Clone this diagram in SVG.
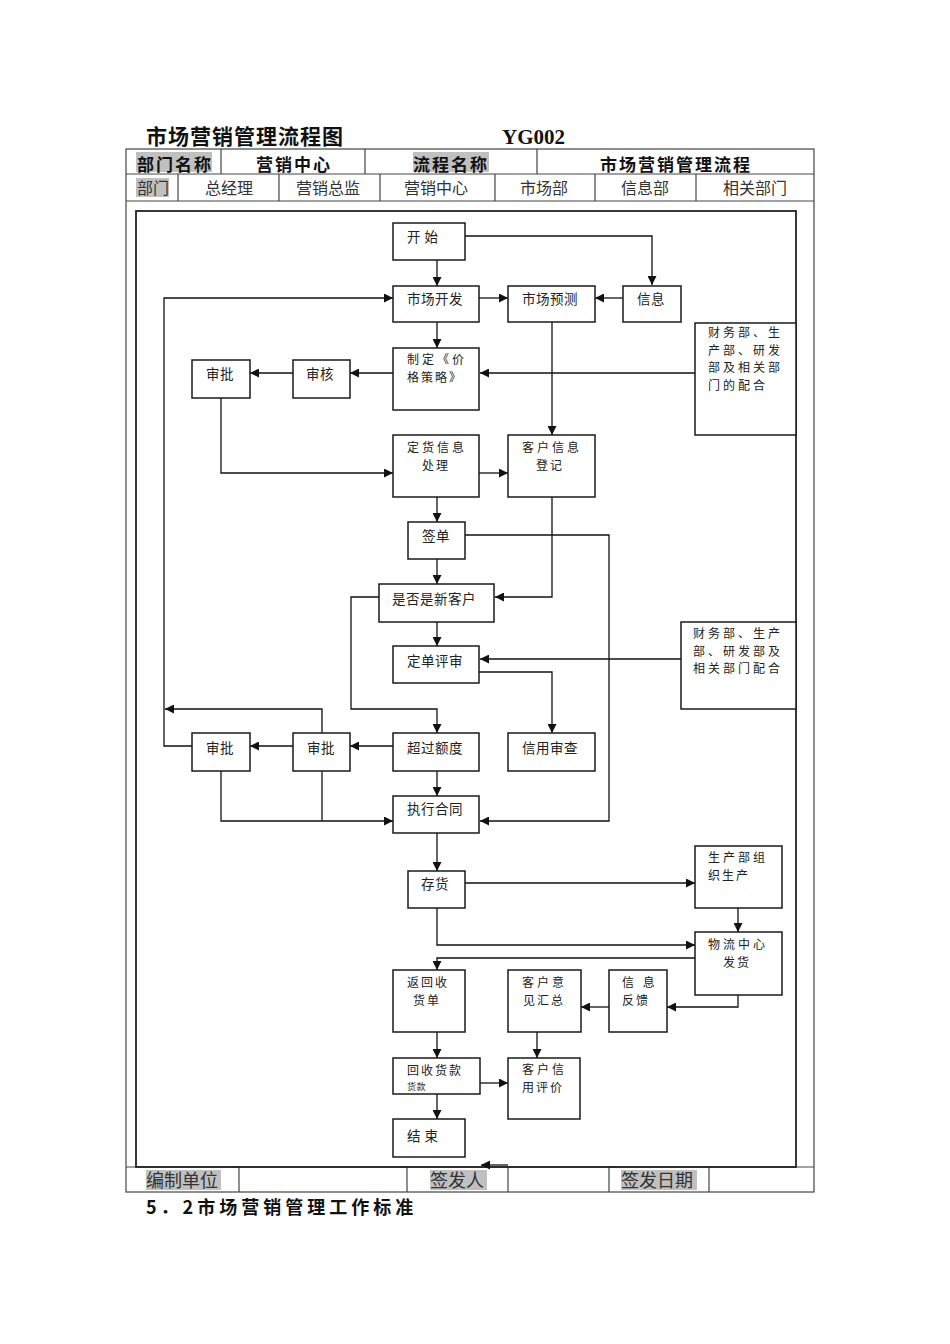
<svg xmlns="http://www.w3.org/2000/svg" width="950" height="1344" viewBox="0 0 950 1344">
<style>
.frame{fill:none;stroke:#444;stroke-width:1.2}
.box{fill:#fff;stroke:#1a1a1a;stroke-width:1.5}
.t{font-family:"Noto Sans CJK SC","Noto Sans",sans-serif;font-size:13.5px;fill:#222;letter-spacing:0.5px}
.m{font-family:"Noto Sans CJK SC","Noto Sans",sans-serif;font-size:12px;fill:#222;letter-spacing:2px}
.w{letter-spacing:3px}
.c{fill:none;stroke:#111;stroke-width:1.3}
.hl{fill:#c0c0c0}
.h1{font-family:"Noto Sans CJK SC",sans-serif;font-size:17px;font-weight:bold;fill:#111;letter-spacing:2px}
.h2{font-family:"Noto Sans CJK SC",sans-serif;font-size:16px;fill:#333}
.ft{font-family:"Noto Sans CJK SC",sans-serif;font-size:18px;fill:#333}
</style>
<defs>
<marker id="ah" viewBox="0 0 10 10" refX="10" refY="5" markerWidth="9" markerHeight="9" markerUnits="userSpaceOnUse" orient="auto"><path d="M0,0 L10,5 L0,10 z" fill="#111"/></marker>
</defs>
<rect width="950" height="1344" fill="#fff"/>

<g id="header">
<text x="146" y="144" font-family="Noto Sans CJK SC, sans-serif" font-size="21" font-weight="bold" fill="#111" letter-spacing="1">市场营销管理流程图</text>
<text x="502" y="144" font-family="Liberation Serif, serif" font-size="21" font-weight="bold" fill="#111">YG002</text>
<rect class="frame" x="126" y="149" width="688" height="1043"/>
<line class="frame" x1="126" y1="174" x2="814" y2="174"/>
<line class="frame" x1="126" y1="201" x2="814" y2="201"/>
<line class="frame" x1="221" y1="149" x2="221" y2="174"/>
<line class="frame" x1="365" y1="149" x2="365" y2="174"/>
<line class="frame" x1="537" y1="149" x2="537" y2="174"/>
<line class="frame" x1="178" y1="174" x2="178" y2="201"/>
<line class="frame" x1="279" y1="174" x2="279" y2="201"/>
<line class="frame" x1="380" y1="174" x2="380" y2="201"/>
<line class="frame" x1="495" y1="174" x2="495" y2="201"/>
<line class="frame" x1="595" y1="174" x2="595" y2="201"/>
<line class="frame" x1="696" y1="174" x2="696" y2="201"/>
<rect class="hl" x="136" y="152" width="76" height="20"/>
<rect class="hl" x="413" y="152" width="76" height="20"/>
<text class="h1" x="137" y="170.5">部门名称</text>
<text class="h1" x="256" y="170.5">营销中心</text>
<text class="h1" x="413" y="170.5">流程名称</text>
<text class="h1" x="600" y="170.5">市场营销管理流程</text>
<rect class="hl" x="136" y="178" width="33" height="19"/>
<text class="h2" x="137" y="194">部门</text>
<text class="h2" x="205" y="194">总经理</text>
<text class="h2" x="296" y="194">营销总监</text>
<text class="h2" x="404" y="194">营销中心</text>
<text class="h2" x="520" y="194">市场部</text>
<text class="h2" x="621" y="194">信息部</text>
<text class="h2" x="723" y="194">相关部门</text>
</g>

<g id="footer">
<line class="frame" x1="126" y1="1167" x2="814" y2="1167"/>
<line class="frame" x1="239" y1="1167" x2="239" y2="1192"/>
<line class="frame" x1="407" y1="1167" x2="407" y2="1192"/>
<line class="frame" x1="508" y1="1167" x2="508" y2="1192"/>
<line class="frame" x1="609" y1="1167" x2="609" y2="1192"/>
<line class="frame" x1="709" y1="1167" x2="709" y2="1192"/>
<rect class="hl" x="146" y="1170" width="75" height="20"/>
<rect class="hl" x="430" y="1170" width="57" height="20"/>
<rect class="hl" x="621" y="1170" width="76" height="20"/>
<text class="ft" x="146" y="1187">编制单位</text>
<text class="ft" x="430" y="1187">签发人</text>
<text class="ft" x="621" y="1187">签发日期</text>
<text x="146" y="1214" font-family="Noto Sans CJK SC, sans-serif" font-size="18" font-weight="bold" fill="#111" letter-spacing="4">5．2市场营销管理工作标准</text>
</g>

<rect id="inner-frame" x="136" y="211" width="660" height="956" fill="none" stroke="#222" stroke-width="1.8"/>

<g id="connectors">
<line class="c" x1="437" y1="260" x2="437" y2="286" marker-end="url(#ah)"/>
<polyline class="c" points="465,236 652,236 652,285" marker-end="url(#ah)"/>
<line class="c" x1="479" y1="298" x2="508" y2="298" marker-end="url(#ah)"/>
<line class="c" x1="623" y1="298" x2="595" y2="298" marker-end="url(#ah)"/>
<line class="c" x1="437" y1="322" x2="437" y2="348" marker-end="url(#ah)"/>
<line class="c" x1="393" y1="373" x2="350" y2="373" marker-end="url(#ah)"/>
<line class="c" x1="293" y1="373" x2="250" y2="373" marker-end="url(#ah)"/>
<line class="c" x1="695" y1="373" x2="480" y2="373" marker-end="url(#ah)"/>
<line class="c" x1="552" y1="322" x2="552" y2="435" marker-end="url(#ah)"/>
<polyline class="c" points="221,398 221,473 393,473" marker-end="url(#ah)"/>
<line class="c" x1="479" y1="473" x2="508" y2="473" marker-end="url(#ah)"/>
<line class="c" x1="437" y1="497" x2="437" y2="522" marker-end="url(#ah)"/>
<polyline class="c" points="465,535 609,535 609,821 480,821" marker-end="url(#ah)"/>
<line class="c" x1="437" y1="559" x2="437" y2="584" marker-end="url(#ah)"/>
<polyline class="c" points="552,497 552,597 495,597" marker-end="url(#ah)"/>
<line class="c" x1="437" y1="622" x2="437" y2="646" marker-end="url(#ah)"/>
<line class="c" x1="681" y1="659" x2="480" y2="659" marker-end="url(#ah)"/>
<polyline class="c" points="479,672 552,672 552,733" marker-end="url(#ah)"/>
<polyline class="c" points="379,597 351,597 351,709 437,709 437,733" marker-end="url(#ah)"/>
<line class="c" x1="393" y1="746" x2="350" y2="746" marker-end="url(#ah)"/>
<line class="c" x1="293" y1="746" x2="250" y2="746" marker-end="url(#ah)"/>
<polyline class="c" points="322,733 322,709 165,709" marker-end="url(#ah)"/>
<polyline class="c" points="192,746 164,746 164,298 393,298" marker-end="url(#ah)"/>
<polyline class="c" points="221,771 221,821 393,821" marker-end="url(#ah)"/>
<line class="c" x1="322" y1="771" x2="322" y2="821"/>
<line class="c" x1="437" y1="771" x2="437" y2="796" marker-end="url(#ah)"/>
<line class="c" x1="437" y1="833" x2="437" y2="871" marker-end="url(#ah)"/>
<line class="c" x1="465" y1="883" x2="695" y2="883" marker-end="url(#ah)"/>
<line class="c" x1="738" y1="908" x2="738" y2="932" marker-end="url(#ah)"/>
<polyline class="c" points="437,908 437,945 695,945" marker-end="url(#ah)"/>
<polyline class="c" points="695,958 437,958 437,970" marker-end="url(#ah)"/>
<polyline class="c" points="738,995 738,1007 667,1007" marker-end="url(#ah)"/>
<line class="c" x1="609" y1="1007" x2="581" y2="1007" marker-end="url(#ah)"/>
<line class="c" x1="537" y1="1032" x2="537" y2="1058" marker-end="url(#ah)"/>
<line class="c" x1="437" y1="1032" x2="437" y2="1058" marker-end="url(#ah)"/>
<line class="c" x1="480" y1="1083" x2="508" y2="1083" marker-end="url(#ah)"/>
<line class="c" x1="437" y1="1094" x2="437" y2="1119" marker-end="url(#ah)"/>
<line class="c" x1="508" y1="1165" x2="481" y2="1165" stroke-width="2.5" marker-end="url(#ah)"/>
</g>

<g id="n-start"><rect class="box" x="393" y="223" width="72" height="37"/><text class="t" x="407" y="242" letter-spacing="3.5">开 始</text></g>
<g id="n-scfz"><rect class="box" x="393" y="286" width="86" height="36"/><text class="t" x="407" y="304">市场开发</text></g>
<g id="n-scyc"><rect class="box" x="508" y="286" width="87" height="36"/><text class="t" x="522" y="304">市场预测</text></g>
<g id="n-xx"><rect class="box" x="623" y="286" width="58" height="36"/><text class="t" x="637" y="304">信息</text></g>
<g id="n-cwb1"><rect class="box" x="695" y="323" width="101" height="112"/>
<text class="m w" x="708" y="337">财务部、生<tspan x="708" dy="17.5">产部、研发</tspan><tspan x="708" dy="17.5">部及相关部</tspan><tspan x="708" dy="17.5">门的配合</tspan></text></g>
<g id="n-sp1"><rect class="box" x="192" y="360" width="58" height="38"/><text class="t" x="206" y="379">审批</text></g>
<g id="n-sh"><rect class="box" x="293" y="360" width="57" height="38"/><text class="t" x="306" y="379">审核</text></g>
<g id="n-zd"><rect class="box" x="393" y="348" width="86" height="62"/>
<text class="m" x="407" y="364"><tspan letter-spacing="3">制定《价</tspan><tspan x="407" dy="17.5">格策略》</tspan></text></g>
<g id="n-dh"><rect class="box" x="393" y="435" width="86" height="62"/>
<text class="m" x="407" y="452"><tspan letter-spacing="3">定货信息</tspan><tspan x="422" dy="17.5">处理</tspan></text></g>
<g id="n-khxx"><rect class="box" x="508" y="435" width="87" height="62"/>
<text class="m" x="522" y="452"><tspan letter-spacing="3">客户信息</tspan><tspan x="536" dy="17.5">登记</tspan></text></g>
<g id="n-qd"><rect class="box" x="408" y="522" width="57" height="37"/><text class="t" x="422" y="541">签单</text></g>
<g id="n-sf"><rect class="box" x="379" y="584" width="115" height="38"/><text class="t" x="392" y="604" letter-spacing="1">是否是新客户</text></g>
<g id="n-ddps"><rect class="box" x="393" y="646" width="86" height="37"/><text class="t" x="407" y="666">定单评审</text></g>
<g id="n-cwb2"><rect class="box" x="681" y="622" width="115" height="87"/>
<text class="m w" x="693" y="638">财务部、生产<tspan x="693" dy="17.5">部、研发部及</tspan><tspan x="693" dy="17.5">相关部门配合</tspan></text></g>
<g id="n-sp2"><rect class="box" x="192" y="733" width="58" height="38"/><text class="t" x="206" y="753">审批</text></g>
<g id="n-sp3"><rect class="box" x="293" y="733" width="57" height="38"/><text class="t" x="307" y="753">审批</text></g>
<g id="n-cged"><rect class="box" x="393" y="733" width="86" height="38"/><text class="t" x="407" y="753">超过额度</text></g>
<g id="n-xysc"><rect class="box" x="508" y="733" width="87" height="38"/><text class="t" x="522" y="753">信用审查</text></g>
<g id="n-zxht"><rect class="box" x="393" y="796" width="86" height="37"/><text class="t" x="407" y="814">执行合同</text></g>
<g id="n-ch"><rect class="box" x="408" y="871" width="57" height="37"/><text class="t" x="421" y="889">存货</text></g>
<g id="n-scb"><rect class="box" x="695" y="846" width="87" height="62"/>
<text class="m" x="708" y="862"><tspan letter-spacing="3">生产部组</tspan><tspan x="708" dy="17.5">织生产</tspan></text></g>
<g id="n-wl"><rect class="box" x="695" y="932" width="87" height="63"/>
<text class="m" x="708" y="949"><tspan letter-spacing="3">物流中心</tspan><tspan x="723" dy="17.5">发货</tspan></text></g>
<g id="n-fh"><rect class="box" x="393" y="970" width="72" height="62"/>
<text class="m" x="407" y="987" letter-spacing="1.5">返回收<tspan x="413" dy="17.5">货单</tspan></text></g>
<g id="n-khyj"><rect class="box" x="508" y="970" width="73" height="62"/>
<text class="m" x="522" y="987"><tspan letter-spacing="3">客户意</tspan><tspan x="523" dy="17.5">见汇总</tspan></text></g>
<g id="n-xxfk"><rect class="box" x="609" y="970" width="58" height="62"/>
<text class="m" x="622" y="987"><tspan letter-spacing="3">信 息</tspan><tspan x="622" dy="17.5">反馈</tspan></text></g>
<g id="n-hshk"><rect class="box" x="393" y="1058" width="87" height="36"/>
<text class="m" x="407" y="1075" letter-spacing="2">回收货款<tspan x="407" y="1090" font-size="9" letter-spacing="0.5">货款</tspan></text></g>
<g id="n-khxy"><rect class="box" x="508" y="1058" width="72" height="61"/>
<text class="m" x="522" y="1074"><tspan letter-spacing="3">客户信</tspan><tspan x="522" dy="17.5">用评价</tspan></text></g>
<g id="n-end"><rect class="box" x="393" y="1119" width="72" height="38"/><text class="t" x="407" y="1141" font-size="15" letter-spacing="3.5">结 束</text></g>
</svg>
